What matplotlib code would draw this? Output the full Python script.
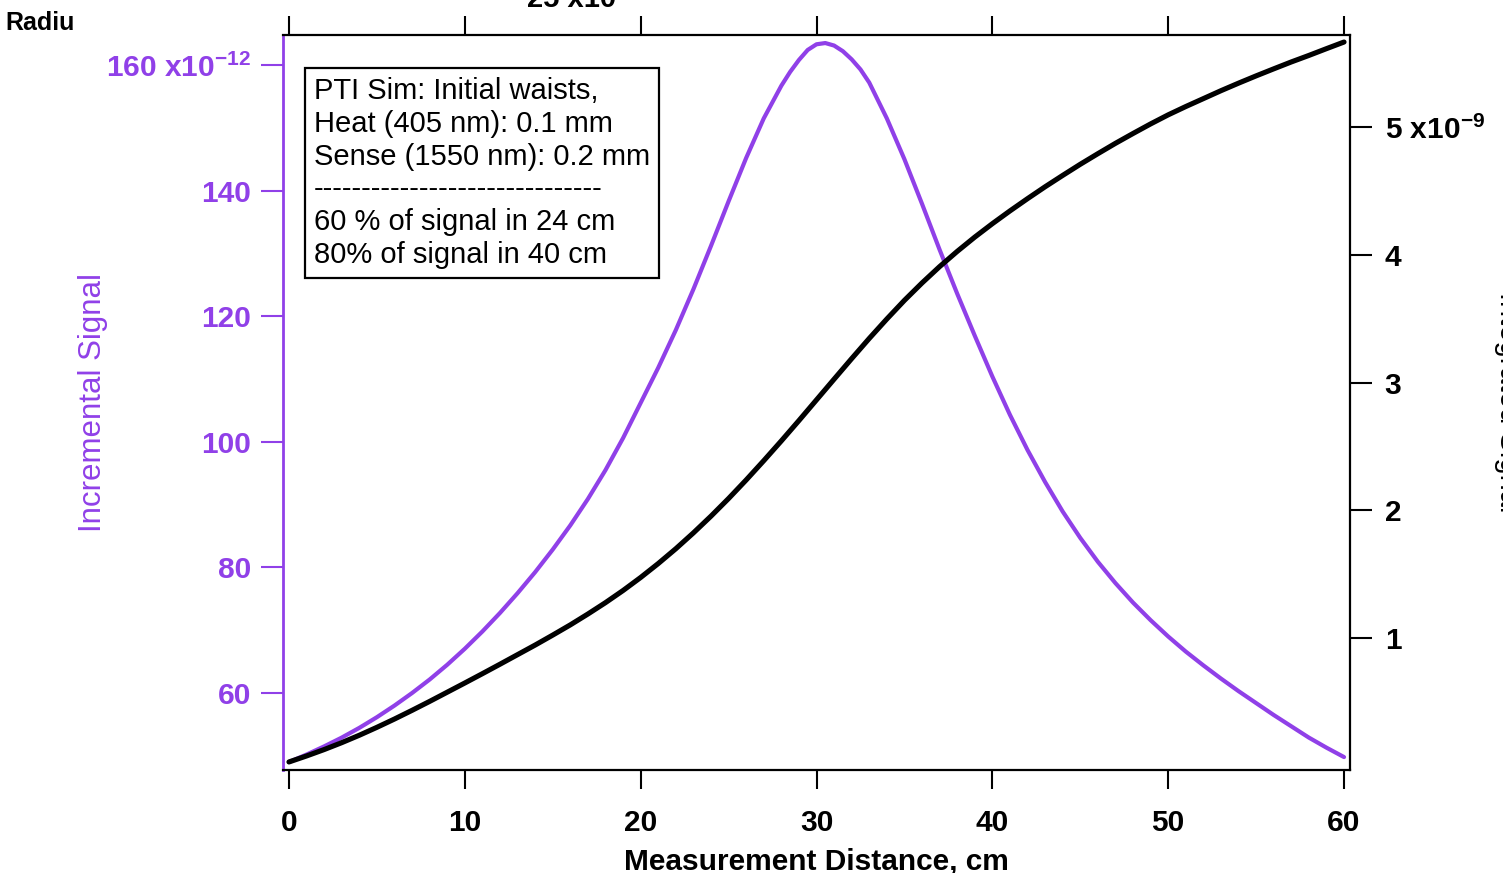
import numpy as np
import matplotlib
matplotlib.use('Agg')
import matplotlib.pyplot as plt

plt.rcParams['font.family'] = ['Liberation Sans', 'DejaVu Sans']
plt.rcParams['mathtext.fontset'] = 'custom'
plt.rcParams['mathtext.rm'] = 'Liberation Sans'
plt.rcParams['mathtext.bf'] = 'Liberation Sans:bold'

# measurement distance, cm (integrated signal read every cm)
distance = list(range(0, 61))

# incremental signal is read every cm, every half cm near the peak
dist_inc = ([0, 1, 2, 3, 4, 5, 6, 7, 8, 9, 10, 11, 12, 13, 14, 15, 16, 17, 18,
             19, 20, 21, 22, 23, 24, 25, 26, 27, 28, 28.5, 29, 29.5, 30, 30.5,
             31, 31.5, 32, 32.5, 33] + list(range(34, 61)))

# incremental signal (x1e-12)
incremental = [49.0, 50.2, 51.5, 52.9, 54.45, 56.15, 58.0, 60.0, 62.15, 64.5,
               67.05, 69.8, 72.75, 75.9, 79.25, 82.85, 86.7, 90.9, 95.5, 100.6,
               106.2, 111.8, 117.8, 124.3, 131.2, 138.3, 145.2, 151.5, 156.7,
               158.9, 160.8, 162.4, 163.3, 163.5, 163.1, 162.2, 160.9, 159.3,
               157.2, 151.5, 145.0, 137.9, 130.6, 123.6, 116.9, 110.4, 104.3,
               98.7, 93.6, 88.9, 84.7, 80.9, 77.5, 74.4, 71.6, 69.0, 66.6, 64.4,
               62.3, 60.3, 58.4, 56.5, 54.7, 52.9, 51.3, 49.8]

# integrated signal (x1e-9)
integrated = [0.03, 0.077, 0.127, 0.181, 0.239, 0.301, 0.366, 0.434, 0.504, 0.576,
              0.648, 0.721, 0.795, 0.870, 0.945, 1.023, 1.103, 1.188, 1.277,
              1.372, 1.474, 1.583, 1.699, 1.823, 1.954, 2.092, 2.237, 2.388,
              2.543, 2.702, 2.864, 3.026, 3.187, 3.345, 3.497, 3.643, 3.779,
              3.907, 4.026, 4.138, 4.243, 4.343, 4.439, 4.532, 4.621, 4.708,
              4.791, 4.872, 4.949, 5.024, 5.095, 5.160, 5.222, 5.284, 5.343,
              5.400, 5.455, 5.509, 5.560, 5.613, 5.665]

x_ticks = [0, 10, 20, 30, 40, 50, 60]
left_ticks = [60, 80, 100, 120, 140, 160]
left_labels = ['60', '80', '100', '120', '140', r'160 x10$^{\mathbf{-12}}$']
right_ticks = [1, 2, 3, 4, 5]
right_labels = ['1', '2', '3', '4', r'5 x10$^{\mathbf{-9}}$']

note = ('PTI Sim: Initial waists,\n'
        'Heat (405 nm): 0.1 mm\n'
        'Sense (1550 nm): 0.2 mm\n'
        '------------------------------\n'
        '60 % of signal in 24 cm\n'
        '80% of signal in 40 cm')

PURPLE = '#9040e8'
W, H = 1503, 873

fig = plt.figure(figsize=(W / 100, H / 100), dpi=100)
ax = fig.add_axes([283 / W, (H - 770) / H, (1350 - 283) / W, (770 - 35) / H])
ax2 = ax.twinx()

ax.plot(dist_inc, incremental, color=PURPLE, lw=3.0,
        solid_capstyle='round', solid_joinstyle='round')
ax2.plot(distance, integrated, color='black', lw=3.7,
         solid_capstyle='round', solid_joinstyle='round')

ax.set_xlim(-0.34, 60.34)
ax.set_ylim(47.74, 164.78)
ax2.set_ylim(-0.033, 5.72)

ax.set_xticks(x_ticks)
ax.set_xticklabels([str(t) for t in x_ticks], fontweight='bold', fontsize=21.5)
ax.set_yticks(left_ticks)
ax.set_yticklabels(left_labels, fontweight='bold', fontsize=21.5, color=PURPLE)
ax2.set_yticks(right_ticks)
ax2.set_yticklabels(right_labels, fontweight='bold', fontsize=21.5)

ax.tick_params(axis='x', direction='out', length=14, width=1.5, pad=14,
               top=True, labeltop=False)
ax.tick_params(axis='y', direction='out', length=16, width=1.5, pad=7,
               colors=PURPLE)
ax2.tick_params(axis='y', direction='out', length=16, width=1.5, pad=9)

for s in ['top', 'bottom']:
    ax.spines[s].set_linewidth(1.6)
ax.spines['left'].set_color(PURPLE)
ax.spines['left'].set_linewidth(2.0)
ax.spines['right'].set_visible(False)
for s in ['top', 'bottom', 'left']:
    ax2.spines[s].set_visible(False)
ax2.spines['right'].set_linewidth(1.6)

ax.set_xlabel('Measurement Distance, cm', fontsize=21.5, fontweight='bold', labelpad=8)
ax.set_ylabel('Incremental Signal', fontsize=22.5, color=PURPLE)
ax.yaxis.set_label_coords(-0.164, 0.5)

ax.text(0.029, 0.943, note, transform=ax.transAxes, fontsize=21,
        va='top', ha='left', linespacing=1.22,
        bbox=dict(boxstyle='square,pad=0.3', fc='white', ec='black', lw=1.6))

# pieces of the neighbouring graph that were cut off
fig.text(5 / W, 1 - 23 / H, 'Radiu', fontsize=18, fontweight='bold', va='center')
fig.text(572 / W, 1 - 7 / H, '25 x10', fontsize=21, fontweight='bold',
         ha='center', va='baseline')
fig.text(1494 / W, 1 - 402 / H, 'Integrated Signal', fontsize=21, rotation=-90,
         ha='left', va='center')

fig.savefig('out.png', dpi=100)
